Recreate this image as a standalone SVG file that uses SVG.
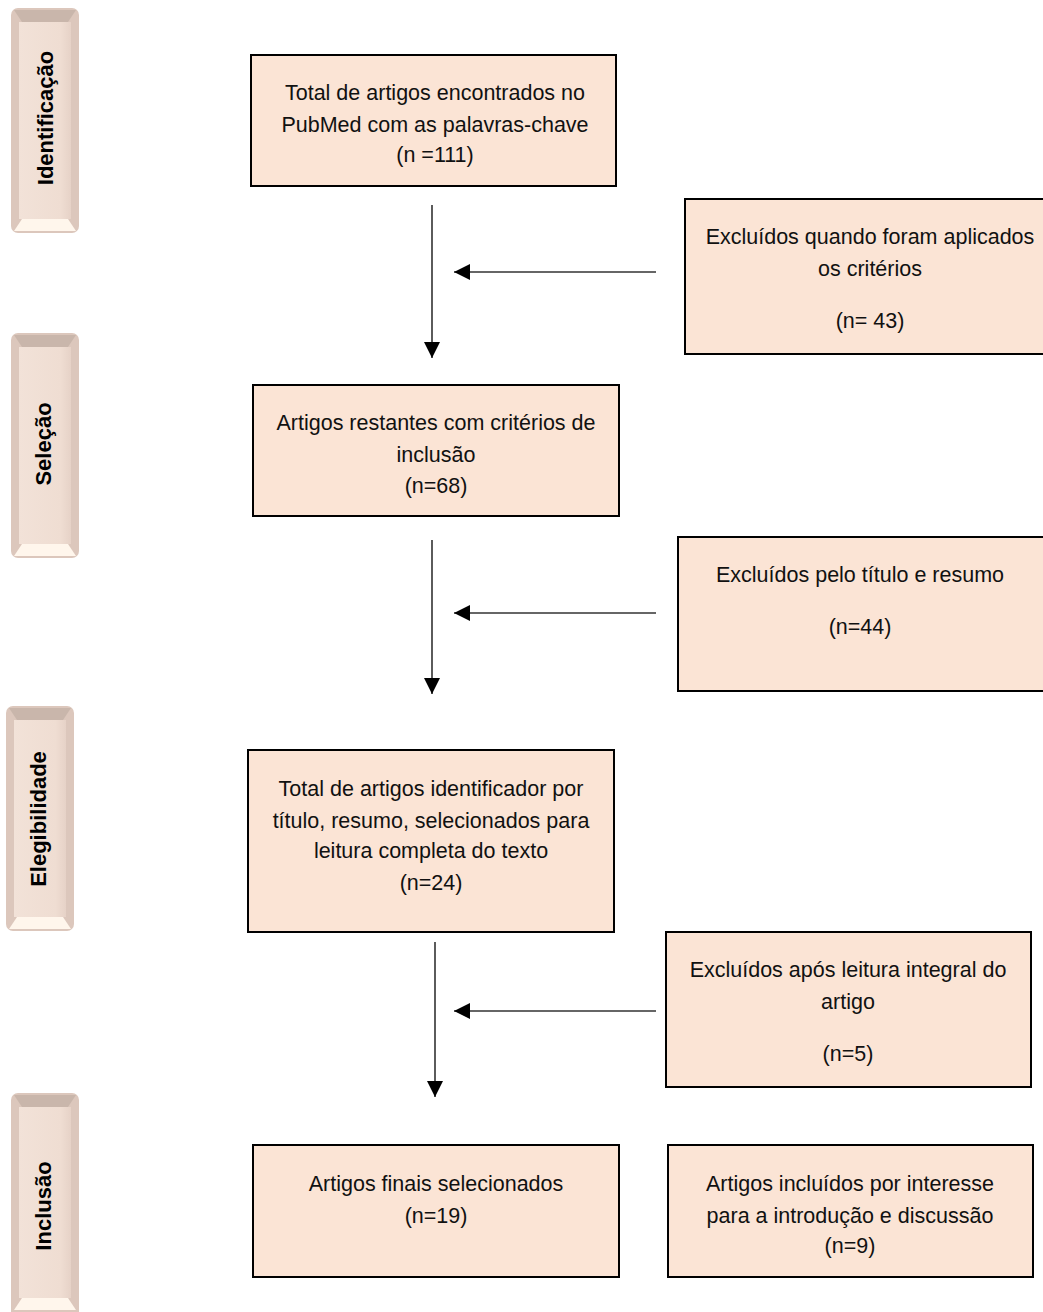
<svg xmlns="http://www.w3.org/2000/svg" width="1043" height="1312" viewBox="0 0 1043 1312">
<defs>
<style>
.box{fill:#FBE4D5;stroke:#000;stroke-width:2}
.t{font-family:"Liberation Sans",Arial,sans-serif;font-size:21.5px;fill:#111;text-anchor:middle}
.lbl{font-family:"Liberation Sans",Arial,sans-serif;font-size:22px;font-weight:bold;fill:#000;text-anchor:middle}
.ln{stroke:#333;stroke-width:1.6;fill:none}
.face{fill:url(#faceg)}
.top{fill:#C9B6AB}
.bot{fill:#FFF6EC}
.side{fill:#DCC7BC}
</style>
<linearGradient id="faceg" x1="0" y1="0" x2="1" y2="0">
<stop offset="0" stop-color="#F2E2D8"/>
<stop offset="0.8" stop-color="#EFDDD2"/>
<stop offset="1" stop-color="#E6D2C7"/>
</linearGradient>
<marker id="ah2" viewBox="0 0 16 16" refX="16" refY="8" markerWidth="16" markerHeight="16" markerUnits="userSpaceOnUse" orient="auto">
<path d="M0,0 L16,8 L0,16 z" fill="#000"/>
</marker>
</defs>

<g id="stage-identificacao">
<rect x="11" y="8" width="68" height="225" rx="7" class="side"/>
<path d="M14,10 L76,10 L68,22 L22,22 Z" class="top"/>
<path d="M14,231 L76,231 L68,219 L22,219 Z" class="bot"/>
<rect x="19" y="22" width="52" height="197" class="face"/>
<text class="lbl" transform="translate(53,118) rotate(-90)">Identificação</text>
</g>

<g id="stage-selecao">
<rect x="11" y="333" width="68" height="225" rx="7" class="side"/>
<path d="M14,335 L76,335 L68,347 L22,347 Z" class="top"/>
<path d="M14,556 L76,556 L68,544 L22,544 Z" class="bot"/>
<rect x="19" y="347" width="52" height="197" class="face"/>
<text class="lbl" transform="translate(51,444) rotate(-90)">Seleção</text>
</g>

<g id="stage-elegibilidade">
<rect x="6" y="706" width="68" height="225" rx="7" class="side"/>
<path d="M9,708 L71,708 L63,720 L17,720 Z" class="top"/>
<path d="M9,929 L71,929 L63,917 L17,917 Z" class="bot"/>
<rect x="14" y="720" width="52" height="197" class="face"/>
<text class="lbl" transform="translate(46,819) rotate(-90)">Elegibilidade</text>
</g>

<g id="stage-inclusao">
<rect x="11" y="1093" width="68" height="232" rx="7" class="side"/>
<path d="M14,1095 L76,1095 L68,1107 L22,1107 Z" class="top"/>
<path d="M14,1310 L76,1310 L68,1298 L22,1298 Z" class="bot"/>
<rect x="19" y="1107" width="52" height="191" class="face"/>
<text class="lbl" transform="translate(51,1206) rotate(-90)">Inclusão</text>
</g>

<g id="box-total">
<rect x="251" y="55" width="365" height="131" class="box"/>
<text class="t" x="435" y="100">Total de artigos encontrados no</text>
<text class="t" x="435" y="132">PubMed com as palavras-chave</text>
<text class="t" x="435" y="162">(n =111)</text>
</g>

<g id="box-excl1">
<rect x="685" y="199" width="362" height="155" class="box"/>
<text class="t" x="870" y="244">Excluídos quando foram aplicados</text>
<text class="t" x="870" y="276">os critérios</text>
<text class="t" x="870" y="328">(n= 43)</text>
</g>

<g id="box-restantes">
<rect x="253" y="385" width="366" height="131" class="box"/>
<text class="t" x="436" y="430">Artigos restantes com critérios de</text>
<text class="t" x="436" y="462">inclusão</text>
<text class="t" x="436" y="493">(n=68)</text>
</g>

<g id="box-excl2">
<rect x="678" y="537" width="369" height="154" class="box"/>
<text class="t" x="860" y="582">Excluídos pelo título e resumo</text>
<text class="t" x="860" y="634">(n=44)</text>
</g>

<g id="box-leitura">
<rect x="248" y="750" width="366" height="182" class="box"/>
<text class="t" x="431" y="796">Total de artigos identificador por</text>
<text class="t" x="431" y="828">título, resumo, selecionados para</text>
<text class="t" x="431" y="858">leitura completa do texto</text>
<text class="t" x="431" y="890">(n=24)</text>
</g>

<g id="box-excl3">
<rect x="666" y="932" width="365" height="155" class="box"/>
<text class="t" x="848" y="977">Excluídos após leitura integral do</text>
<text class="t" x="848" y="1009">artigo</text>
<text class="t" x="848" y="1061">(n=5)</text>
</g>

<g id="box-finais">
<rect x="253" y="1145" width="366" height="132" class="box"/>
<text class="t" x="436" y="1191">Artigos finais selecionados</text>
<text class="t" x="436" y="1223">(n=19)</text>
</g>

<g id="box-interesse">
<rect x="668" y="1145" width="365" height="132" class="box"/>
<text class="t" x="850" y="1191">Artigos incluídos por interesse</text>
<text class="t" x="850" y="1223">para a introdução e discussão</text>
<text class="t" x="850" y="1253">(n=9)</text>
</g>

<g id="connectors">
<line class="ln" x1="432" y1="205" x2="432" y2="358" marker-end="url(#ah2)"/>
<line class="ln" x1="656" y1="272" x2="454" y2="272" marker-end="url(#ah2)"/>
<line class="ln" x1="432" y1="540" x2="432" y2="694" marker-end="url(#ah2)"/>
<line class="ln" x1="656" y1="613" x2="454" y2="613" marker-end="url(#ah2)"/>
<line class="ln" x1="435" y1="942" x2="435" y2="1097" marker-end="url(#ah2)"/>
<line class="ln" x1="656" y1="1011" x2="454" y2="1011" marker-end="url(#ah2)"/>
</g>
</svg>
